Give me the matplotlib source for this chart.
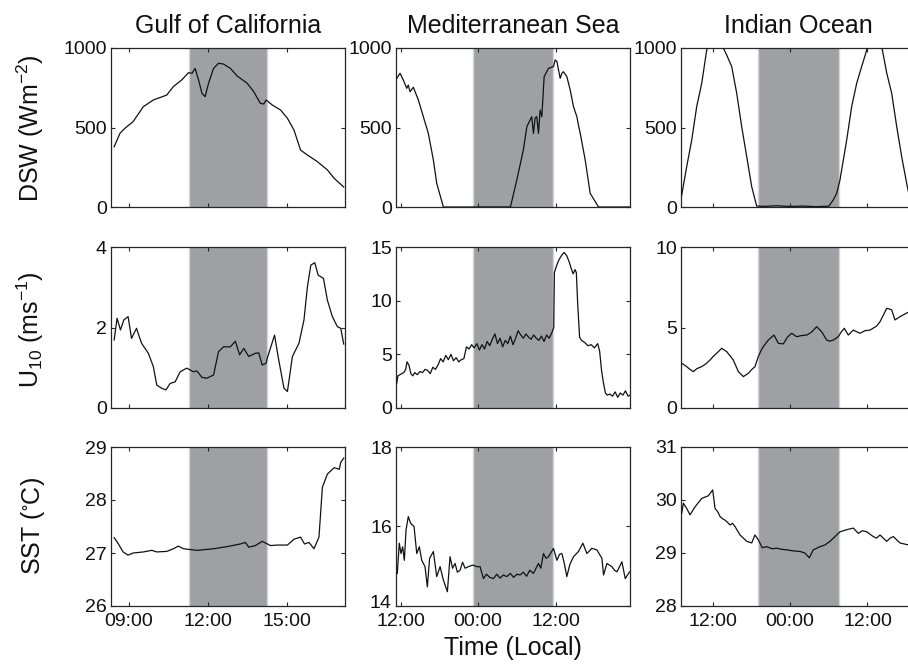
import matplotlib
matplotlib.use("Agg")
import matplotlib.pyplot as plt
from matplotlib.transforms import ScaledTranslation

plt.rcParams['font.family'] = ['Liberation Sans', 'DejaVu Sans']
plt.rcParams['mathtext.fontset'] = 'custom'
plt.rcParams['mathtext.rm'] = 'Liberation Sans'
plt.rcParams['mathtext.it'] = 'Liberation Sans:italic'
plt.rcParams['mathtext.default'] = 'regular'

# ---------------- data (time in hours; 24 = 00:00 of next day) ----------------
titles = ["Gulf of California", "Mediterranean Sea", "Indian Ocean"]
ylabels = ["DSW (Wm$^{-2}$)", "U$_{10}$ (ms$^{-1}$)", "SST ($^{\\circ}$C)"]
xlabel = "Time (Local)"

xlims = [(8.32, 17.22), (11.3, 47.5), (7.12, 43.36)]
night = [(11.27, 14.25), (23.22, 35.66), (19.09, 31.59)]
xticks = [[9, 12, 15], [12, 24, 36], [12, 24, 36]]
xticklabels = [["09:00", "12:00", "15:00"], ["12:00", "00:00", "12:00"], ["12:00", "00:00", "12:00"]]

ylims = [[(0, 1000), (0, 1000), (0, 1000)],
         [(0, 4), (0, 15), (0, 10)],
         [(26, 29), (14, 18), (28, 31)]]
yticks = [[[0, 500, 1000], [0, 500, 1000], [0, 500, 1000]],
          [[0, 2, 4], [0, 5, 10, 15], [0, 5, 10]],
          [[26, 27, 28, 29], [14, 16, 18], [28, 29, 30, 31]]]

gulf_dsw_t = [8.44, 8.66, 8.85, 9.16, 9.55, 9.93, 10.44, 10.69, 11.01, 11.27, 11.40, 11.52, 11.65, 11.78, 11.90, 12.03, 12.22, 12.41, 12.60, 12.86, 13.12, 13.50, 13.75, 14.00, 14.13, 14.22, 14.45, 14.77, 15.03, 15.28, 15.53, 15.79, 16.17, 16.55, 16.81, 17.17]
gulf_dsw_v = [379, 463, 495, 537, 631, 673, 704, 757, 799, 845, 841, 872, 799, 715, 694, 778, 872, 904, 899, 872, 824, 778, 725, 652, 648, 673, 642, 610, 558, 484, 358, 327, 285, 233, 180, 126]

med_dsw_t = [11.41, 11.92, 12.43, 12.96, 13.20, 13.47, 13.98, 14.76, 15.53, 16.30, 17.08, 17.60, 18.63, 29.00, 29.99, 31.00, 31.54, 32.30, 32.56, 32.82, 33.08, 33.34, 33.60, 33.86, 34.22, 34.89, 35.66, 35.92, 36.19, 36.70, 36.96, 37.20, 37.73, 38.25, 38.76, 39.28, 39.50, 39.80, 40.57, 41.34, 42.63, 47.50]
med_dsw_v = [809, 841, 799, 746, 767, 725, 753, 673, 568, 463, 296, 149, 0, 0, 170, 358, 505, 568, 463, 560, 568, 463, 610, 568, 820, 872, 883, 925, 915, 809, 841, 851, 820, 736, 631, 568, 520, 463, 296, 86, 0, 0]

ind_dsw_t = [7.23, 8.00, 8.78, 9.55, 10.33, 11.10, 11.60, 12.40, 13.20, 13.67, 14.20, 14.97, 15.75, 16.52, 17.30, 18.07, 18.84, 20.0, 22.0, 24.0, 26.0, 28.0, 30.0, 30.70, 31.23, 31.74, 32.78, 33.55, 34.33, 35.10, 35.88, 36.50, 37.20, 38.20, 38.99, 39.75, 40.53, 41.30, 42.17, 42.80, 43.40]
ind_dsw_v = [75, 253, 421, 631, 778, 987, 1060, 1090, 1050, 1000, 956, 883, 715, 505, 316, 128, 6, 4, 8, 3, 6, 2, 5, 44, 86, 170, 421, 631, 778, 883, 987, 1060, 1080, 1010, 841, 715, 505, 316, 128, 8, 3]

gulf_u10_t = [8.44, 8.55, 8.68, 8.81, 8.97, 9.10, 9.29, 9.48, 9.74, 9.93, 10.06, 10.25, 10.41, 10.57, 10.76, 10.95, 11.20, 11.46, 11.59, 11.78, 11.97, 12.22, 12.41, 12.60, 12.86, 13.05, 13.21, 13.37, 13.56, 13.81, 13.94, 14.07, 14.22, 14.26, 14.54, 14.70, 14.90, 15.03, 15.22, 15.47, 15.66, 15.79, 15.92, 16.07, 16.20, 16.40, 16.55, 16.74, 16.93, 17.06, 17.17]
gulf_u10_v = [1.69, 2.23, 1.94, 2.19, 2.27, 1.73, 1.98, 1.61, 1.36, 1.03, 0.57, 0.49, 0.45, 0.61, 0.65, 0.90, 0.99, 0.90, 0.92, 0.76, 0.74, 0.82, 1.40, 1.52, 1.52, 1.66, 1.32, 1.48, 1.28, 1.36, 1.37, 1.07, 1.11, 1.23, 1.81, 1.19, 0.49, 0.41, 1.28, 1.61, 2.19, 3.01, 3.55, 3.61, 3.30, 3.22, 2.68, 2.27, 2.02, 1.98, 1.59]

med_u10_t = [11.4, 11.6, 11.9, 12.2, 12.5, 12.8, 13.0, 13.3, 13.6, 13.9, 14.2, 14.6, 15.0, 15.4, 15.8, 16.2, 16.6, 17.0, 17.4, 17.8, 18.2, 18.6, 19.0, 19.4, 19.8, 20.2, 20.6, 21.0, 21.4, 21.8, 22.2, 22.6, 23.0, 23.4, 23.8, 24.2, 24.6, 25.0, 25.4, 25.8, 26.2, 26.6, 27.0, 27.4, 27.8, 28.2, 28.6, 29.0, 29.4, 29.8, 30.2, 30.6, 31.0, 31.4, 31.8, 32.2, 32.6, 33.0, 33.4, 33.8, 34.2, 34.6, 35.0, 35.4, 35.7, 35.8, 36.1, 36.5, 36.9, 37.3, 37.7, 38.1, 38.4, 38.7, 39.0, 39.2, 39.4, 39.7, 40.0, 40.5, 41.0, 41.5, 42.0, 42.5, 42.8, 43.1, 43.4, 43.7, 44.0, 44.4, 44.8, 45.2, 45.6, 46.0, 46.4, 46.8, 47.2, 47.5]
med_u10_v = [2.3, 3.0, 3.1, 3.2, 3.3, 3.6, 4.3, 4.0, 3.2, 3.0, 3.3, 3.1, 3.4, 3.3, 3.6, 3.5, 3.2, 3.8, 3.6, 4.0, 4.6, 4.3, 4.9, 4.5, 5.0, 4.4, 4.7, 4.3, 4.5, 4.6, 5.7, 5.5, 5.9, 5.6, 6.0, 5.4, 5.9, 5.5, 6.2, 5.8, 6.4, 6.9, 6.0, 6.5, 5.7, 6.3, 6.0, 6.7, 5.9, 6.5, 7.2, 6.8, 6.5, 6.9, 6.6, 6.4, 6.8, 6.5, 6.3, 6.7, 6.2, 6.8, 6.5, 7.0, 7.5, 12.6, 13.2, 13.8, 14.2, 14.5, 14.2, 13.6, 13.0, 12.5, 12.9, 12.6, 9.8, 6.6, 6.3, 6.1, 5.8, 5.9, 5.6, 6.0, 5.3, 3.5, 2.3, 1.4, 1.2, 1.3, 1.1, 1.5, 1.0, 1.4, 1.2, 1.6, 1.1, 1.2]

ind_u10_t = [7.23, 8.00, 8.50, 9.03, 9.60, 10.33, 11.00, 11.61, 12.10, 12.65, 13.42, 14.20, 14.70, 15.22, 16.00, 16.77, 17.54, 18.10, 18.58, 19.09, 19.50, 19.87, 20.64, 21.52, 22.19, 22.96, 23.60, 24.26, 25.03, 25.80, 26.58, 27.30, 28.13, 28.90, 29.68, 30.20, 30.71, 31.48, 31.90, 32.41, 33.03, 33.80, 34.84, 35.60, 36.39, 37.42, 37.94, 38.50, 38.97, 39.40, 39.75, 40.26, 41.03, 42.17, 43.40]
ind_u10_v = [2.78, 2.57, 2.40, 2.26, 2.45, 2.57, 2.75, 2.98, 3.20, 3.40, 3.71, 3.50, 3.25, 2.98, 2.26, 1.95, 2.15, 2.40, 2.57, 3.19, 3.55, 3.81, 4.22, 4.53, 4.02, 3.98, 4.40, 4.64, 4.43, 4.50, 4.53, 4.70, 5.05, 4.74, 4.22, 4.15, 4.22, 4.43, 4.70, 4.95, 4.53, 4.84, 4.64, 4.80, 4.84, 5.09, 5.36, 5.80, 6.19, 6.15, 6.09, 5.47, 5.67, 5.92, 6.00]

gulf_sst_t = [8.44, 8.59, 8.78, 8.97, 9.16, 9.55, 9.87, 10.06, 10.44, 10.69, 10.88, 11.08, 11.59, 12.22, 12.73, 13.24, 13.43, 13.56, 13.81, 14.07, 14.39, 14.64, 15.03, 15.28, 15.53, 15.68, 15.85, 16.04, 16.23, 16.36, 16.55, 16.81, 17.00, 17.06, 17.17]
gulf_sst_v = [27.29, 27.18, 27.02, 26.96, 27.00, 27.02, 27.05, 27.02, 27.03, 27.08, 27.13, 27.08, 27.05, 27.08, 27.12, 27.17, 27.20, 27.11, 27.14, 27.22, 27.14, 27.15, 27.15, 27.26, 27.30, 27.17, 27.20, 27.08, 27.30, 28.24, 28.49, 28.61, 28.58, 28.71, 28.79]

med_sst_t = [11.50, 11.81, 12.07, 12.33, 12.59, 12.85, 13.20, 13.57, 14.09, 14.51, 14.91, 15.28, 15.79, 16.15, 16.50, 17.08, 17.60, 18.12, 18.63, 19.25, 19.66, 20.05, 20.44, 20.80, 21.21, 21.60, 21.99, 22.50, 23.18, 23.80, 24.31, 24.82, 25.30, 25.80, 26.37, 26.90, 27.40, 27.90, 28.44, 29.00, 29.50, 30.00, 30.50, 31.00, 31.50, 32.00, 32.56, 33.34, 33.70, 34.11, 34.50, 34.89, 35.30, 35.66, 36.19, 36.60, 36.96, 37.30, 37.73, 38.20, 38.76, 39.53, 40.21, 40.83, 41.60, 42.38, 43.15, 43.41, 43.93, 44.70, 45.10, 45.48, 46.25, 46.76, 47.43]
med_sst_v = [14.82, 15.58, 15.32, 15.49, 15.15, 15.91, 16.25, 16.08, 16.00, 15.32, 15.49, 15.15, 14.99, 14.48, 15.20, 15.37, 14.74, 14.99, 14.65, 14.36, 15.24, 14.95, 15.07, 14.85, 14.90, 15.10, 14.95, 14.99, 15.03, 14.99, 14.99, 14.69, 14.80, 14.72, 14.69, 14.80, 14.70, 14.78, 14.74, 14.82, 14.72, 14.80, 14.78, 14.85, 14.75, 14.90, 14.82, 15.07, 14.95, 15.32, 15.20, 15.24, 15.35, 15.45, 15.15, 15.30, 15.32, 15.10, 14.74, 15.05, 15.24, 15.37, 15.58, 15.32, 15.45, 15.41, 15.20, 14.78, 15.07, 14.99, 14.90, 14.86, 15.11, 14.69, 14.86]

ind_sst_t = [7.23, 7.49, 8.00, 8.52, 9.29, 10.33, 11.36, 12.03, 12.39, 12.80, 13.16, 13.50, 13.94, 14.30, 14.71, 15.10, 15.48, 16.26, 17.30, 18.07, 18.58, 19.09, 19.70, 20.39, 21.20, 21.94, 22.70, 23.49, 24.50, 25.55, 26.30, 26.99, 27.61, 28.65, 29.40, 30.19, 31.23, 31.74, 32.78, 33.80, 34.58, 35.20, 35.88, 36.90, 37.40, 37.94, 38.97, 39.50, 40.00, 41.03, 42.06, 43.40]
ind_sst_v = [29.75, 29.94, 29.84, 29.72, 29.87, 30.03, 30.08, 30.19, 29.84, 29.78, 29.69, 29.65, 29.62, 29.58, 29.53, 29.56, 29.50, 29.34, 29.22, 29.19, 29.34, 29.25, 29.10, 29.12, 29.08, 29.09, 29.07, 29.06, 29.04, 29.03, 29.00, 28.91, 29.06, 29.12, 29.15, 29.22, 29.34, 29.40, 29.44, 29.47, 29.37, 29.42, 29.40, 29.31, 29.28, 29.34, 29.22, 29.28, 29.31, 29.19, 29.16, 29.14]

series = [[(gulf_dsw_t, gulf_dsw_v), (med_dsw_t, med_dsw_v), (ind_dsw_t, ind_dsw_v)],
          [(gulf_u10_t, gulf_u10_v), (med_u10_t, med_u10_v), (ind_u10_t, ind_u10_v)],
          [(gulf_sst_t, gulf_sst_v), (med_sst_t, med_sst_v), (ind_sst_t, ind_sst_v)]]

# ---------------- layout ----------------
W, H = 908, 668
fig = plt.figure(figsize=(W / 100, H / 100), dpi=100)

col_left = [111, 396, 681]
col_w = 234
row_top = [48, 247, 447]
row_bot = [207, 408, 606]

spine_c = '#262626'
shade_c = '#9fa0a4'
edge_c = '#d6d6d6'

for r in range(3):
    for c in range(3):
        ax = fig.add_axes([col_left[c] / W, 1 - row_bot[r] / H,
                           col_w / W, (row_bot[r] - row_top[r]) / H])
        x0, x1 = night[c]
        ax.axvspan(x0, x1, color=shade_c, lw=0, zorder=1)
        ax.axvline(x0, color=edge_c, lw=1.0, zorder=1.5)
        ax.axvline(x1, color=edge_c, lw=1.0, zorder=1.5)
        t, v = series[r][c]
        ax.plot(t, v, color='#111111', lw=0.9, zorder=3)
        ax.set_xlim(*xlims[c])
        ax.set_ylim(*ylims[r][c])
        ax.set_xticks(xticks[c])
        ax.set_yticks(yticks[r][c])
        if r == 2:
            ax.set_xticklabels(xticklabels[c])
        else:
            ax.set_xticklabels([])
        ax.tick_params(direction='in', length=3, width=0.8, color=spine_c,
                       top=True, right=True, labelsize=14, labelcolor='#111111')
        ax.tick_params(axis='x', pad=5)
        ax.tick_params(axis='y', pad=3)
        for s in ax.spines.values():
            s.set_color(spine_c)
            s.set_linewidth(0.9)
        if r == 0:
            ax.set_title(titles[c], fontsize=18, pad=11, color='#111111')
        if r == 2 and c == 1:
            # the lowest label sits slightly raised, just above the time labels
            lab = ax.get_yticklabels()[0]
            lab.set_transform(lab.get_transform() +
                              ScaledTranslation(0, 5 / 100, fig.dpi_scale_trans))

ylab_y = [128, 330, 526]
ylab_x = [30, 30, 33]
for r in range(3):
    fig.text(ylab_x[r] / W, 1 - ylab_y[r] / H, ylabels[r], rotation=90,
             ha='center', va='center', fontsize=18, color='#111111')

fig.text(513 / W, 1 - 648 / H, xlabel, ha='center', va='center',
         fontsize=18, color='#111111')

fig.savefig('out.png', dpi=100)
